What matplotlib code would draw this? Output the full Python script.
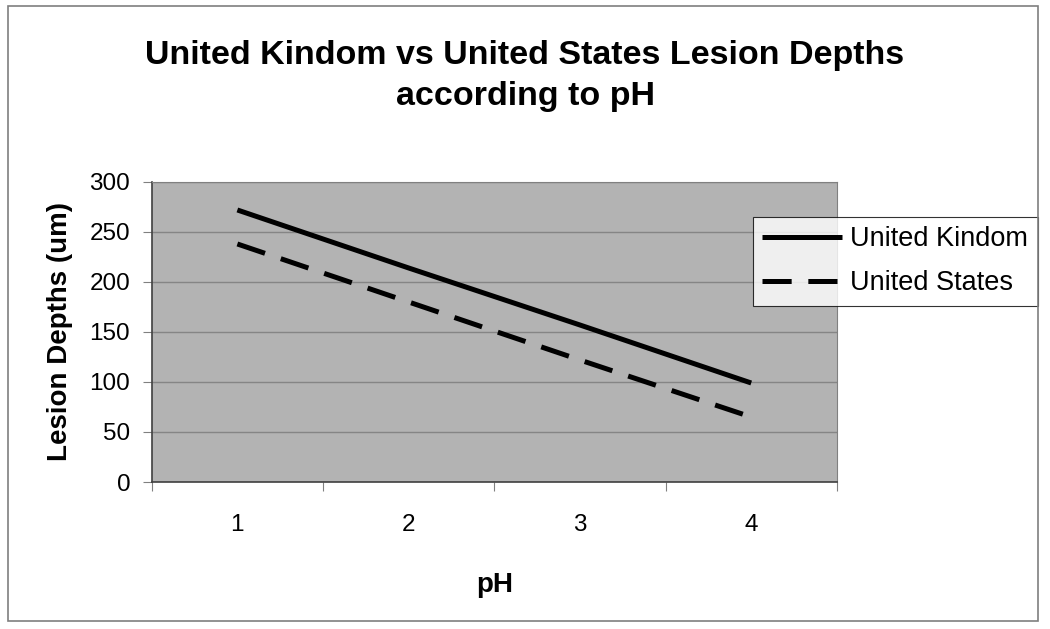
import matplotlib.pyplot as plt
from matplotlib.patches import Rectangle

plt.rcParams["font.family"] = ["Liberation Sans", "DejaVu Sans"]
plt.rcParams["lines.scale_dashes"] = False

# data
ph = [1, 2, 3, 4]
uk_depth = [272, 214, 157, 99]
us_depth = [238, 180, 122, 65]
y_ticks = [0, 50, 100, 150, 200, 250, 300]

fig = plt.figure(figsize=(10.5, 6.29), dpi=100)
ax = fig.add_axes([0.1445, 0.2337, 0.6525, 0.4770])

# outer chart frame
fig.patches.append(Rectangle((8 / 1050, 1 - 621 / 629), 1030 / 1050, 615 / 629,
                             transform=fig.transFigure, fill=False,
                             edgecolor="#7f7f7f", linewidth=1.2))

ax.set_facecolor("#b3b3b3")
ax.plot(ph, uk_depth, color="black", linewidth=3.6, solid_capstyle="butt",
        label="United Kindom")
ax.plot(ph, us_depth, color="black", linewidth=3.6, dashes=(21, 12),
        dash_capstyle="butt", label="United States")

ax.set_xlim(0.5, 4.5)
ax.set_ylim(0, 300)
ax.set_yticks(y_ticks)
ax.yaxis.grid(True, color="#858585", linewidth=1)
ax.set_axisbelow(True)

ax.set_xticks([x + 0.5 for x in [0] + ph])
ax.set_xticklabels([])
ax.set_xticks(ph, minor=True)
ax.set_xticklabels([str(p) for p in ph], minor=True, fontsize=17.5)
ax.tick_params(axis="x", which="minor", length=0, pad=23)
ax.tick_params(axis="x", which="major", length=6.5, color="#808080")
ax.tick_params(axis="y", length=6.5, color="#808080", labelsize=17.5, pad=9)

for s in ["top", "right"]:
    ax.spines[s].set_color("#808080")
for s in ["left", "bottom"]:
    ax.spines[s].set_color("#404040")
    ax.spines[s].set_linewidth(1.2)

ax.set_xlabel("pH", fontsize=20, fontweight="bold", labelpad=26)
ax.set_ylabel("Lesion Depths (um)", fontsize=20, fontweight="bold", labelpad=12)

fig.text(0.5, 1 - 76 / 629, "United Kindom vs United States Lesion Depths\naccording to pH",
         ha="center", va="center", fontsize=24.5, fontweight="bold", linespacing=1.45)

leg = ax.legend(loc="upper left", bbox_to_anchor=(753 / 1050, 1 - 217 / 629),
                bbox_transform=fig.transFigure, fontsize=19.5, frameon=True,
                fancybox=False, edgecolor="black", handlelength=2.95,
                handletextpad=0.3, borderpad=0.35, labelspacing=0.65,
                borderaxespad=0)
leg.get_frame().set_linewidth(0.8)

fig.savefig("out.png", dpi=100, facecolor="white")
